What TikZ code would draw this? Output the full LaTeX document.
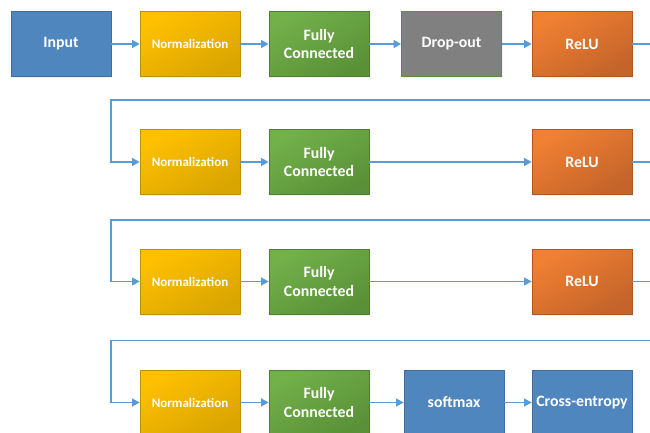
\documentclass[tikz,border=0pt]{standalone}
\usepackage{fontspec}
\setmainfont{Carlito}
\usetikzlibrary{arrows.meta,shadows}
\definecolor{lineblue}{HTML}{5B9BD5}
\definecolor{bluefill}{HTML}{4F86BD}
\definecolor{blueedge}{HTML}{3F6E9E}
\definecolor{goldA}{HTML}{FFC000}
\definecolor{goldB}{HTML}{D9A500}
\definecolor{goldedge}{HTML}{C09000}
\definecolor{greenA}{HTML}{72B04A}
\definecolor{greenB}{HTML}{5A9138}
\definecolor{greenedge}{HTML}{4F7F31}
\definecolor{grayfill}{HTML}{808080}
\definecolor{grayedge}{HTML}{5E8C3F}
\definecolor{orangeA}{HTML}{F08033}
\definecolor{orangeB}{HTML}{C4642A}
\definecolor{orangeedge}{HTML}{B0581F}
\begin{document}
\begin{tikzpicture}[x=1pt,y=-1pt,
  box/.style={minimum width=100pt,minimum height=65pt,inner sep=0pt,align=center,
    text=white,font=\bfseries\fontsize{15.8}{18.8}\selectfont,line width=0.8pt,
    drop shadow={opacity=0.12,shadow xshift=1pt,shadow yshift=-1.5pt}},
  inbox/.style={box,fill=bluefill,draw=blueedge},
  normbox/.style={box,top color=goldA,bottom color=goldB,shading angle=30,draw=goldedge,
    font=\bfseries\fontsize{13}{15.5}\selectfont},
  fcbox/.style={box,top color=greenA,bottom color=greenB,shading angle=30,draw=greenedge},
  dropbox/.style={box,fill=grayfill,draw=grayedge},
  relubox/.style={box,top color=orangeA,bottom color=orangeB,shading angle=30,draw=orangeedge},
  conn/.style={draw=lineblue,line width=1.2pt,-{Triangle[length=7.5pt,width=8pt]}}
]
\useasboundingbox (0,0) rectangle (650,433);

% row 1
\node[inbox]   (in)  at (61,44)  {Input};
\node[normbox] (n1)  at (190,44) {Normalization};
\node[fcbox]   (fc1) at (319,44) {Fully\\Connected};
\node[dropbox] (d1)  at (451.5,44) {Drop-out};
\node[relubox] (r1)  at (582,44) {ReLU};
% row 2
\node[normbox] (n2)  at (190,162) {Normalization};
\node[fcbox]   (fc2) at (319,162) {Fully\\Connected};
\node[relubox] (r2)  at (582,162) {ReLU};
% row 3
\node[normbox] (n3)  at (190,281.5) {Normalization};
\node[fcbox]   (fc3) at (319,281.5) {Fully\\Connected};
\node[relubox] (r3)  at (582,281.5) {ReLU};
% row 4
\node[normbox] (n4)  at (190,402.5) {Normalization};
\node[fcbox]   (fc4) at (319,402.5) {Fully\\Connected};
\node[inbox]   (sm)  at (454,402.5) {softmax};
\node[inbox]   (ce)  at (582,402.5) {Cross-entropy};

\coordinate (e1) at (665,44);
\coordinate (e2) at (665,162);
\coordinate (e3) at (665,281.5);
\coordinate (l1) at (111,100);
\coordinate (l2) at (111,220);
\coordinate (l3) at (111,340.5);

\draw[conn] (in) -- (n1);
\draw[conn] (n1) -- (fc1);
\draw[conn] (fc1) -- (d1);
\draw[conn] (d1) -- (r1);
\draw[conn] (r1.east) -- (e1) |- (l1) |- (n2.west);

\draw[conn] (n2) -- (fc2);
\draw[conn] (fc2) -- (r2);
\draw[conn] (r2.east) -- (e2) |- (l2) |- (n3.west);

\draw[conn] (n3) -- (fc3);
\draw[conn] (fc3) -- (r3);
\draw[conn] (r3.east) -- (e3) |- (l3) |- (n4.west);

\draw[conn] (n4) -- (fc4);
\draw[conn] (fc4) -- (sm);
\draw[conn] (sm) -- (ce);
\end{tikzpicture}
\end{document}
